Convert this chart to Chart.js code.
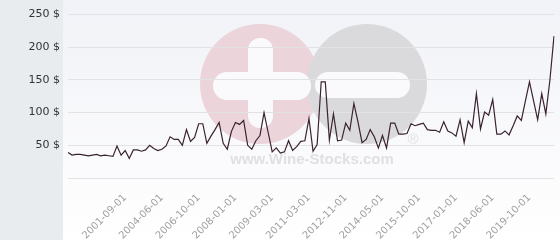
<!DOCTYPE html>
<html>
<head>
<meta charset="utf-8">
<script src="https://cdn.jsdelivr.net/npm/chart.js@4/dist/chart.umd.min.js"></script>
<style>
  html, body { margin: 0; padding: 0; background: #fff; }
  #wrap { width: 560px; height: 240px; }
</style>
</head>
<body>
<div id="wrap"><canvas id="priceChart" width="560" height="240"></canvas></div>
<script>
// price history, one value per sample (in $)
const prices = [
  39, 35, 36, 36, 35, 34, 35, 36, 34, 35,
  34, 33, 49, 35, 42, 30, 43, 43, 41, 43,
  50, 45, 42, 44, 49, 63, 59, 59, 50, 74,
  56, 62, 83, 83, 53, 64, 74, 85, 53, 44,
  71, 85, 82, 88, 50, 44, 57, 65, 100, 70,
  40, 46, 38, 40, 57, 42, 48, 56, 57, 91,
  41, 51, 147, 147, 58, 98, 57, 58, 84, 73,
  114, 86, 54, 59, 74, 63, 46, 65, 46, 84,
  84, 67, 67, 68, 83, 80, 82, 84, 74, 73,
  73, 70, 86, 72, 69, 64, 89, 54, 87, 77,
  129, 75, 101, 96, 120, 67, 67, 72, 66, 80,
  95, 88, 118, 147, 118, 89, 129, 98, 150, 217
];

// dates shown on the x axis (every 9th sample, starting at sample 14)
const tickDates = [
  "2001-09-01", "2004-06-01", "2006-10-01", "2008-01-01",
  "2009-03-01", "2011-03-01", "2012-11-01", "2014-05-01",
  "2015-10-01", "2017-01-01", "2018-06-01", "2019-10-01"
];
const firstTick = 14;
const tickStep = 9;

const yTicks = [0, 50, 100, 150, 200, 250];

const labels = prices.map((_, i) => {
  const k = (i - firstTick) / tickStep;
  return (k >= 0 && Number.isInteger(k) && k < tickDates.length) ? tickDates[k] : "";
});

// page background + wine-stocks watermark
const backdrop = {
  id: "backdrop",
  beforeDraw(chart) {
    const { ctx, width, height } = chart;
    ctx.save();
    const g = ctx.createLinearGradient(0, 0, 0, height);
    g.addColorStop(0, "#f1f2f7");
    g.addColorStop(1, "#ffffff");
    ctx.fillStyle = g;
    ctx.fillRect(0, 0, width, height);
    ctx.fillStyle = "#e8ecef";
    ctx.fillRect(0, 0, 63, height);

    // logo
    ctx.fillStyle = "#ecd4db";
    ctx.beginPath(); ctx.arc(260, 84, 60, 0, Math.PI * 2); ctx.fill();
    ctx.fillStyle = "#dadadc";
    ctx.beginPath(); ctx.arc(367, 84, 60, 0, Math.PI * 2); ctx.fill();

    ctx.fillStyle = "#fafafc";
    const bar = (x, y, w, h, r) => {
      ctx.beginPath();
      ctx.roundRect(x, y, w, h, r);
      ctx.fill();
    };
    bar(248, 38, 25, 90, 12);
    bar(213, 72, 98, 28, 14);
    bar(315, 72, 95, 26, 13);

    ctx.fillStyle = "#e0e0e2";
    ctx.font = "bold 15px 'Liberation Sans', Arial, sans-serif";
    ctx.textAlign = "center";
    ctx.textBaseline = "middle";
    ctx.fillText("www.Wine-Stocks.com", 312, 160);
    ctx.font = "15px 'Liberation Sans', Arial, sans-serif";
    ctx.fillText("®", 413, 140);
    ctx.restore();
  }
};

new Chart(document.getElementById("priceChart"), {
  type: "line",
  data: {
    labels,
    datasets: [{
      data: prices,
      borderColor: "#3a2230",
      borderWidth: 1.2,
      pointRadius: 0,
      tension: 0,
      fill: false
    }]
  },
  options: {
    responsive: false,
    animation: false,
    devicePixelRatio: 1,
    layout: { padding: { top: 14, right: 6, left: 0, bottom: 0 } },
    plugins: { legend: { display: false }, tooltip: { enabled: false } },
    scales: {
      x: {
        offset: false,
        grid: { display: false },
        border: { display: false },
        afterFit: s => { s.height = 62; s.paddingLeft = 0; s.paddingRight = 0; },
        ticks: {
          autoSkip: false,
          minRotation: 45,
          maxRotation: 45,
          padding: 6,
          color: "#a0a0a0",
          font: { family: "'DejaVu Sans'", size: 10 }
        }
      },
      y: {
        min: yTicks[0],
        max: yTicks[yTicks.length - 1],
        afterBuildTicks: s => { s.ticks = yTicks.map(v => ({ value: v })); },
        afterFit: s => { s.width = 68; },
        grid: { color: "#e2e2e4", drawTicks: false },
        border: { display: false },
        ticks: {
          padding: 8,
          color: "#333",
          font: { family: "'DejaVu Sans'", size: 11 },
          callback: v => v === 0 ? "" : v + " $"
        }
      }
    }
  },
  plugins: [backdrop]
});
</script>
</body>
</html>
